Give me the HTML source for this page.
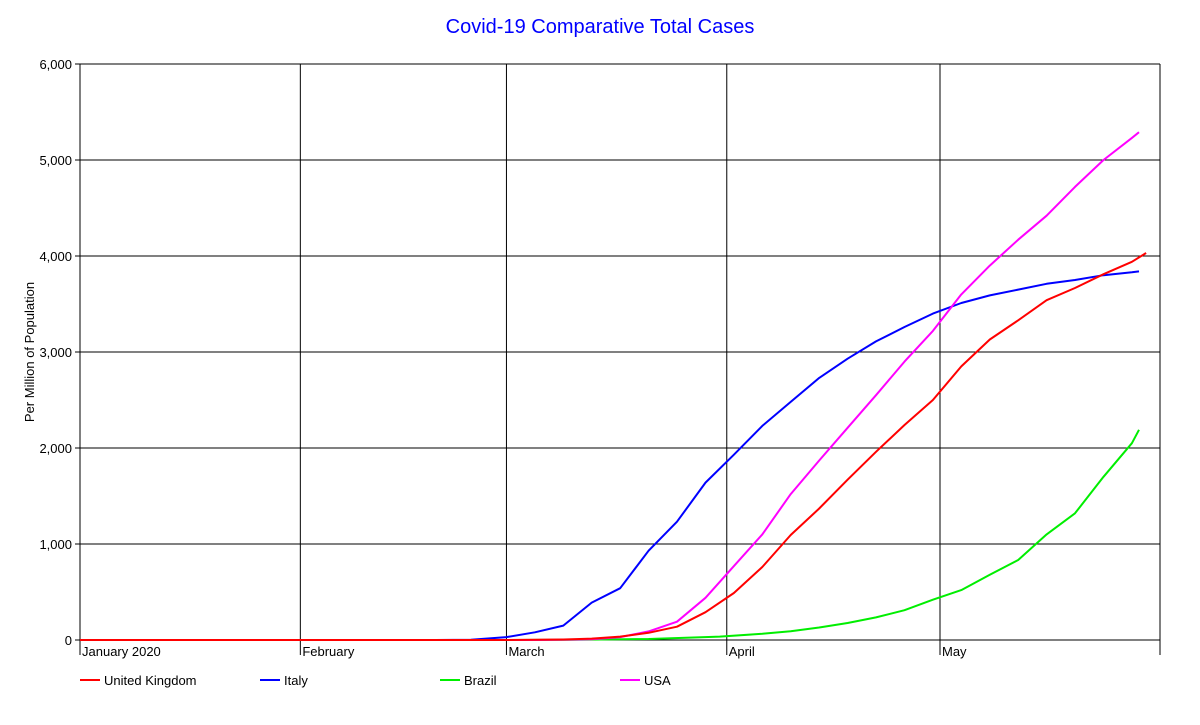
<!DOCTYPE html>
<html><head><meta charset="utf-8"><style>
body{margin:0;background:#fff;font-family:"Liberation Sans",sans-serif}
svg text{font-family:"Liberation Sans",sans-serif}
</style></head><body>
<svg id="chart" width="1200" height="720" xmlns="http://www.w3.org/2000/svg">
<rect width="1200" height="720" fill="#fff"/>
<text x="600" y="33" text-anchor="middle" font-size="20" fill="#0000ff">Covid-19 Comparative Total Cases</text>
<text transform="translate(34,352) rotate(-90)" text-anchor="middle" font-size="13">Per Million of Population</text>
<g id="grid"></g><g id="series"></g><g id="legend"></g>
</svg>
<script>
const yTicks=[0,1000,2000,3000,4000,5000,6000];
const yTickLabels=["0","1,000","2,000","3,000","4,000","5,000","6,000"];
const monthDays=[0,31,60,91,121];
const monthLabels=["January 2020","February","March","April","May"];
const ukDays=[50,55,60,64,68,72,76,80,84,88,92,96,100,104,108,112,116,120,124,128,132,136,140,144,148,150];
const ukValues=[0,0,0.5,2,5,15,35,75,139,290,490,760,1094,1370,1670,1960,2240,2500,2850,3130,3330,3540,3667,3810,3940,4031];
const italyDays=[50,55,60,64,68,72,76,80,84,88,92,96,100,104,108,112,116,120,124,128,132,136,140,144,148,149];
const italyValues=[0,2,30,80,150,390,540,930,1232,1640,1930,2230,2480,2730,2930,3110,3260,3400,3510,3590,3650,3710,3750,3800,3830,3840];
const brazilDays=[60,70,80,90,96,100,104,108,112,116,120,124,128,132,136,140,144,148,149];
const brazilValues=[0,2,10,35,65,92,130,177,235,310,420,520,680,833,1100,1320,1700,2050,2190];
const usaDays=[50,55,60,64,68,72,76,80,84,88,92,96,100,104,108,112,116,120,124,128,132,136,140,144,148,149];
const usaValues=[0,0,0,0.5,2,8,30,90,191,440,770,1100,1520,1870,2210,2550,2900,3220,3600,3900,4170,4420,4720,5000,5230,5290];
const seriesNames=["United Kingdom","Italy","Brazil","USA"];
const seriesColors=["#ff0000","#0000ff","#00ee00","#ff00ff"];

const X0=80,X1=1160,Y0=640,Y1=64,DAYMAX=152;
const xs=d=>X0+d*(940-80)/121;
const ys=v=>Y0-(v/6000)*(Y0-Y1);
const NS="http://www.w3.org/2000/svg";
function mk(tag,attrs,parent){const e=document.createElementNS(NS,tag);for(const k in attrs)e.setAttribute(k,attrs[k]);parent.appendChild(e);return e;}
const grid=document.getElementById('grid');
yTicks.forEach((t,i)=>{
  const l=mk('line',{x1:X0-5,x2:X1,y1:ys(t),y2:ys(t),stroke:'#000','stroke-width':1},grid);
  
  
  const tx=mk('text',{x:X0-8,y:ys(t)+5,'text-anchor':'end','font-size':13},grid);
  tx.textContent=yTickLabels[i];
  
  
});
monthDays.forEach((d,i)=>{
  const l=mk('line',{x1:xs(d),x2:xs(d),y1:Y1,y2:Y0+15,stroke:'#000','stroke-width':1},grid);
  
  
  const tx=mk('text',{x:xs(d)+2,y:Y0+16,'font-size':13},grid);
  tx.textContent=monthLabels[i];
  
  
});
const rb=mk('line',{x1:X1,x2:X1,y1:Y1,y2:Y0+15,stroke:'#000','stroke-width':1},grid);


const sg=document.getElementById('series');
const allDays=[ukDays,italyDays,brazilDays,usaDays],allVals=[ukValues,italyValues,brazilValues,usaValues];
const keys=['uk','italy','brazil','usa'];
[1,2,3,0].forEach(i=>{
  const pts=[[0,0]].concat(allDays[i].map((d,j)=>[d,allVals[i][j]]));
  const p=mk('polyline',{points:pts.map(q=>xs(q[0]).toFixed(1)+','+ys(q[1]).toFixed(1)).join(' '),fill:'none',stroke:seriesColors[i],'stroke-width':2,'stroke-linejoin':'round'},sg);
  
  
});
const lg=document.getElementById('legend');
const lx=[80,260,440,620];
seriesNames.forEach((n,i)=>{
  const l=mk('line',{x1:lx[i],x2:lx[i]+20,y1:680,y2:680,stroke:seriesColors[i],'stroke-width':2},lg);
  
  
  const t=mk('text',{x:lx[i]+24,y:685,'font-size':13},lg);
  t.textContent=n;
  
  
});
</script>
</body></html>
